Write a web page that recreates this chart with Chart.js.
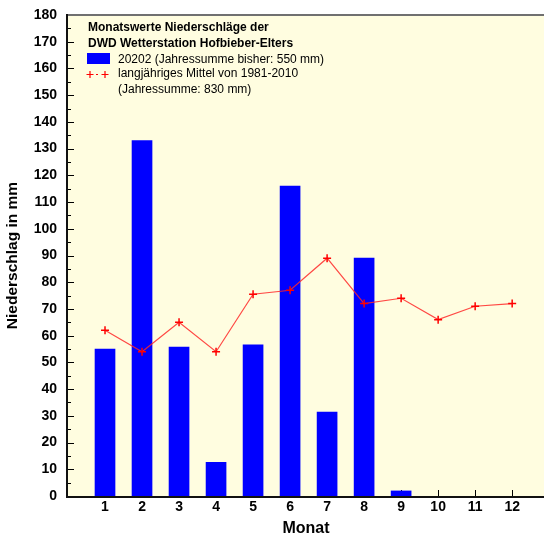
<!DOCTYPE html>
<html>
<head>
<meta charset="utf-8">
<script src="https://cdn.jsdelivr.net/npm/chart.js@4/dist/chart.umd.min.js"></script>
<style>
  html, body { margin: 0; padding: 0; background: #fff; }
  #wrap { width: 544px; height: 535px; }
</style>
</head>
<body>
<div id="wrap"><canvas id="rainChart" width="544" height="535"></canvas></div>
<script>
const months = [1, 2, 3, 4, 5, 6, 7, 8, 9, 10, 11, 12];
const rain2020 = [55, 133, 55.7, 12.6, 56.6, 116, 31.4, 89, 1.9, null, null, null];
const longTermMean = [62, 54, 65, 54, 75.5, 77, 89, 72, 74, 66, 71, 72];
const yTicks = [0, 10, 20, 30, 40, 50, 60, 70, 80, 90, 100, 110, 120, 130, 140, 150, 160, 170, 180];

const legendTitle = ["Monatswerte Niederschläge der", "DWD Wetterstation Hofbieber-Elters"];
const legendBar = "20202 (Jahressumme bisher: 550 mm)";
const legendLine = ["langjähriges Mittel von 1981-2010", "(Jahressumme: 830 mm)"];

const FONT = "'Liberation Sans', Arial, sans-serif";

const frame = {
  id: "frame",
  beforeDraw(chart) {
    const { ctx, chartArea: a } = chart;
    ctx.save();
    ctx.fillStyle = "#FFFDE0";
    ctx.fillRect(a.left, a.top, a.right - a.left, a.bottom - a.top);
    ctx.restore();
  },
  beforeDatasetsDraw(chart) {
    const { ctx, chartArea: a } = chart;
    const y = chart.scales.y;
    const x = chart.scales.x;
    ctx.save();
    ctx.strokeStyle = "#000";
    ctx.lineWidth = 1;
    ctx.beginPath();
    for (let v = 0; v <= 180; v += 5) {
      const py = Math.round(y.getPixelForValue(v)) + 0.5;
      const len = v % 10 === 0 ? 6 : 3;
      ctx.moveTo(a.left, py);
      ctx.lineTo(a.left + len, py);
    }
    months.forEach(m => {
      const px = Math.round(x.getPixelForValue(m)) + 0.5;
      ctx.moveTo(px, a.bottom);
      ctx.lineTo(px, a.bottom - 6);
    });
    ctx.stroke();
    ctx.restore();
  },
  afterDraw(chart) {
    const { ctx, chartArea: a } = chart;
    ctx.save();
    // top border
    ctx.strokeStyle = "#707070";
    ctx.lineWidth = 2;
    ctx.beginPath();
    ctx.moveTo(a.left, a.top);
    ctx.lineTo(a.right, a.top);
    ctx.stroke();
    // axes
    ctx.strokeStyle = "#111";
    ctx.beginPath();
    ctx.moveTo(a.left - 1, a.top - 1);
    ctx.lineTo(a.left - 1, a.bottom + 1);
    ctx.lineTo(a.right, a.bottom + 1);
    ctx.stroke();

    // legend inside plot
    const lx = 88;
    ctx.fillStyle = "#000";
    ctx.textBaseline = "middle";
    ctx.font = "bold 12px " + FONT;
    ctx.fillText(legendTitle[0], lx, 28);
    ctx.fillText(legendTitle[1], lx, 44);
    ctx.fillStyle = "#0000FF";
    ctx.fillRect(lx - 1, 53, 23, 11);
    ctx.fillStyle = "#000";
    ctx.font = "12px " + FONT;
    ctx.fillText(legendBar, 118, 59.5);
    ctx.fillText(legendLine[0], 118, 74);
    ctx.fillText(legendLine[1], 118, 89.5);
    ctx.strokeStyle = "#FF0000";
    ctx.lineWidth = 1.2;
    ctx.beginPath();
    [lx + 2, lx + 17].forEach(cx => {
      ctx.moveTo(cx - 3.5, 74.5); ctx.lineTo(cx + 3.5, 74.5);
      ctx.moveTo(cx, 71); ctx.lineTo(cx, 78);
    });
    ctx.moveTo(lx + 8, 74.5); ctx.lineTo(lx + 10, 74.5);
    ctx.stroke();
    ctx.restore();
  }
};

new Chart(document.getElementById("rainChart"), {
  type: "bar",
  data: {
    datasets: [
      {
        type: "bar",
        data: months.map((m, i) => ({ x: m, y: rain2020[i] })),
        backgroundColor: "#0000FF",
        borderWidth: 0,
        barThickness: 20,
        grouped: false,
        order: 2
      },
      {
        type: "line",
        data: months.map((m, i) => ({ x: m, y: longTermMean[i] })),
        borderColor: "rgba(255, 40, 40, 0.85)",
        borderWidth: 1.2,
        pointStyle: "cross",
        pointRadius: 4,
        pointBorderWidth: 1.5,
        pointBorderColor: "#FF0000",
        tension: 0,
        order: 1
      }
    ]
  },
  options: {
    responsive: false,
    animation: false,
    layout: { autoPadding: false, padding: { top: 15, right: 0, left: 0, bottom: 0 } },
    plugins: { legend: { display: false }, tooltip: { enabled: false } },
    scales: {
      x: {
        type: "linear",
        offset: false,
        min: 0,
        max: 12.86,
        grid: { display: false, drawTicks: false, tickLength: 0, offset: false },
        border: { display: false },
        afterFit(s) { s.height = 39; s.paddingLeft = 0; s.paddingRight = 0; },
        ticks: {
          stepSize: 1,
          includeBounds: false,
          autoSkip: false,
          maxRotation: 0,
          padding: 3,
          color: "#000",
          font: { family: FONT, size: 14, weight: "bold" },
          callback: v => (months.includes(v) ? String(v) : "")
        },
        title: {
          display: true,
          text: "Monat",
          color: "#000",
          font: { family: FONT, size: 16, weight: "bold", lineHeight: 1 },
          padding: { top: 0, bottom: -2 }
        }
      },
      y: {
        min: 0,
        max: 180,
        grid: { display: false, drawTicks: false, tickLength: 0 },
        border: { display: false },
        afterFit(s) { s.width = 68; s.paddingTop = 0; s.paddingBottom = 0; },
        afterBuildTicks(s) { s.ticks = yTicks.map(v => ({ value: v })); },
        ticks: {
          padding: 11,
          color: "#000",
          font: { family: FONT, size: 14, weight: "bold" }
        },
        title: {
          display: true,
          text: "Niederschlag in mm",
          color: "#000",
          font: { family: FONT, size: 15.5, weight: "bold", lineHeight: 1.2 },
          padding: { top: 3, bottom: 0 }
        }
      }
    }
  },
  plugins: [frame]
});
</script>
</body>
</html>
